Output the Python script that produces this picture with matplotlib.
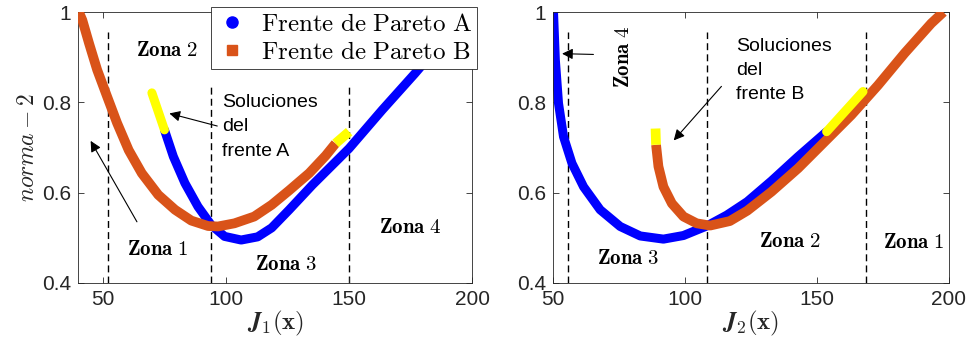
import matplotlib
matplotlib.use('Agg')
import matplotlib.pyplot as plt
from matplotlib.lines import Line2D

plt.rcParams['mathtext.fontset'] = 'cm'
plt.rcParams['font.family'] = ['Liberation Sans', 'DejaVu Sans']

C_A = '#0000FF'
C_B = '#D95319'
C_SEL = '#FFFF00'
GREY = '#262626'

# --- J1 panel -------------------------------------------------------------
a1_x = [75.1, 78.7, 83.4, 88.7, 94.1, 99.5, 106.2, 112.9, 118.6, 125.7, 135.1, 150.0, 163.4, 176.7, 198.0]
a1_y = [0.739, 0.680, 0.621, 0.569, 0.528, 0.503, 0.495, 0.502, 0.522, 0.562, 0.617, 0.698, 0.783, 0.864, 1.0]
a1_sel_x = [70.0, 75.1]
a1_sel_y = [0.821, 0.739]

b1_x = [40.4, 41.8, 44.5, 47.8, 51.9, 55.9, 60.6, 65.9, 72.6, 79.4, 86.0, 92.8, 96.8,
        103.5, 111.5, 118.6, 125.7, 133.8, 140.5, 144.5]
b1_y = [1.0, 0.982, 0.931, 0.872, 0.812, 0.754, 0.694, 0.643, 0.595, 0.562, 0.538, 0.526, 0.525,
        0.532, 0.547, 0.573, 0.605, 0.643, 0.682, 0.709]
b1_sel_x = [144.5, 150.0]
b1_sel_y = [0.709, 0.735]

zones1_x = [52, 94, 150]
zones1_top = [0.956, 0.838, 0.838]

# --- J2 panel -------------------------------------------------------------
a2_x = [50.1, 50.8, 52.0, 53.9, 57.1, 61.5, 67.8, 75.4, 83.0, 91.8, 99.4, 108.2,
        115.8, 123.6, 132.8, 142.9, 153.7]
a2_y = [1.0, 0.894, 0.798, 0.724, 0.665, 0.613, 0.562, 0.525, 0.504, 0.497, 0.505, 0.526,
        0.550, 0.580, 0.626, 0.680, 0.735]
a2_sel_x = [153.7, 167.5]
a2_sel_y = [0.735, 0.824]

b2_x = [89.0, 89.9, 91.8, 95.0, 99.4, 104.4, 109.5, 117.0, 123.6, 132.8, 142.9, 153.0,
        163.1, 173.2, 183.3, 193.4, 198.0]
b2_y = [0.706, 0.658, 0.613, 0.576, 0.547, 0.532, 0.527, 0.537, 0.560, 0.602, 0.654, 0.713,
        0.772, 0.838, 0.909, 0.975, 1.0]
b2_sel_x = [88.8, 89.0]
b2_sel_y = [0.742, 0.706]

zones2_x = [55.7, 108.3, 168.8]
zones2_top = [0.956, 0.956, 0.956]

fig = plt.figure(figsize=(9.74, 3.45), dpi=100)
ax1 = fig.add_axes([0.080, 0.180, 0.405, 0.785])
ax2 = fig.add_axes([0.568, 0.180, 0.406, 0.785])


def style(ax, xlim, xlabel):
    ax.set_xlim(*xlim)
    ax.set_ylim(0.4, 1.0)
    ax.set_xticks([50, 100, 150, 200])
    ax.set_yticks([0.4, 0.6, 0.8, 1.0])
    ax.set_yticklabels(['0.4', '0.6', '0.8', '1'])
    ax.tick_params(direction='in', top=True, right=True, length=4, width=0.6,
                   colors=GREY, labelsize=15, pad=5)
    for sp in ax.spines.values():
        sp.set_color(GREY)
        sp.set_linewidth(0.6)
    ax.set_xlabel(xlabel, fontsize=18, color=GREY, labelpad=0)


def fronts(ax, ax_, ay_, sx_a, sy_a, bx_, by_, sx_b, sy_b):
    ax.plot(ax_, ay_, color=C_A, lw=6.5, solid_capstyle='round',
            solid_joinstyle='round', zorder=2)
    ax.plot(bx_, by_, color=C_B, lw=7, solid_capstyle='butt',
            solid_joinstyle='round', zorder=3)
    ax.plot(sx_a, sy_a, color=C_SEL, lw=6.5, solid_capstyle='round', zorder=4)
    ax.plot(sx_b, sy_b, color=C_SEL, lw=7, solid_capstyle='butt', zorder=4)


def zone_lines(ax, xs, tops):
    for x, t in zip(xs, tops):
        ax.plot([x, x], [0.4, t], color='black', lw=1, linestyle=(0, (5, 3)), zorder=1)


zona_kw = dict(fontsize=15, ha='center', va='center', color='black')
sol_kw = dict(fontsize=14, ha='left', va='top', color='black', linespacing=1.55)
arrow_kw = dict(arrowstyle='-|>', color='black', lw=0.8, mutation_scale=16)

# left panel
fronts(ax1, a1_x, a1_y, a1_sel_x, a1_sel_y, b1_x, b1_y, b1_sel_x, b1_sel_y)
zone_lines(ax1, zones1_x, zones1_top)
style(ax1, (40, 200), r'$\boldsymbol{J}_1(\mathbf{x})$')
ax1.set_ylabel(r'$norma-2$', fontsize=17, color=GREY, labelpad=2)

ax1.text(76, 0.914, r'$\mathbf{Zona\ 2}$', **zona_kw)
ax1.text(72.6, 0.475, r'$\mathbf{Zona\ 1}$', **zona_kw)
ax1.text(124.6, 0.440, r'$\mathbf{Zona\ 3}$', **zona_kw)
ax1.text(174.8, 0.522, r'$\mathbf{Zona\ 4}$', **zona_kw)
ax1.text(98.5, 0.818, 'Soluciones\ndel\nfrente A', **sol_kw)
ax1.annotate('', xy=(76, 0.777), xytext=(97.6, 0.746), arrowprops=arrow_kw)
ax1.annotate('', xy=(44.6, 0.720), xytext=(64.5, 0.530), arrowprops=arrow_kw)

handles = [
    Line2D([], [], color=C_A, marker='o', linestyle='none', markersize=8),
    Line2D([], [], color=C_B, marker='s', linestyle='none', markersize=7),
]
leg = ax1.legend(handles, [r'$\mathrm{Frente\ de\ Pareto\ A}$', r'$\mathrm{Frente\ de\ Pareto\ B}$'],
                 loc='upper right', bbox_to_anchor=(1.012, 1.018), borderaxespad=0,
                 fontsize=18, fancybox=False, framealpha=1, edgecolor=GREY,
                 handletextpad=0.5, labelspacing=0.15, borderpad=0.2, handlelength=1.3)
leg.get_frame().set_linewidth(0.6)
leg.set_zorder(10)

# right panel
fronts(ax2, a2_x, a2_y, a2_sel_x, a2_sel_y, b2_x, b2_y, b2_sel_x, b2_sel_y)
zone_lines(ax2, zones2_x, zones2_top)
style(ax2, (50, 200), r'$\boldsymbol{J}_2(\mathbf{x})$')

ax2.text(76.6, 0.901, r'$\mathbf{Zona\ 4}$', rotation=90, **zona_kw)
ax2.text(78.5, 0.453, r'$\mathbf{Zona\ 3}$', **zona_kw)
ax2.text(139.8, 0.492, r'$\mathbf{Zona\ 2}$', **zona_kw)
ax2.text(186.7, 0.489, r'$\mathbf{Zona\ 1}$', **zona_kw)
ax2.text(119.3, 0.943, 'Soluciones\ndel\nfrente B', **sol_kw)
ax2.annotate('', xy=(52.3, 0.908), xytext=(66.3, 0.906), arrowprops=arrow_kw)
ax2.annotate('', xy=(95, 0.711), xytext=(114.5, 0.840), arrowprops=arrow_kw)

fig.savefig('out.png', dpi=100, facecolor='white')
plt.close(fig)
